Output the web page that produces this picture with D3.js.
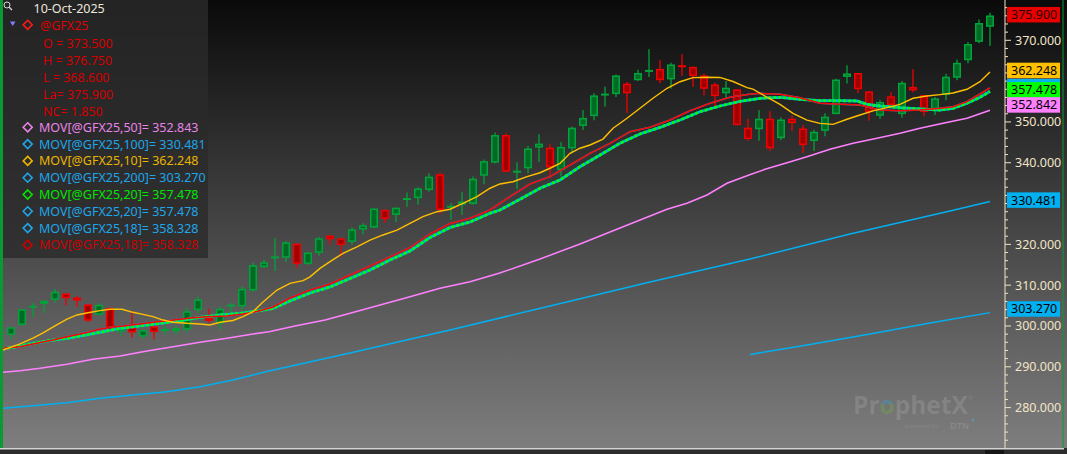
<!DOCTYPE html>
<html><head><meta charset="utf-8">
<script src="https://cdn.jsdelivr.net/npm/d3@7"></script>
<style>html,body{margin:0;padding:0;background:#2b2b2b;overflow:hidden}svg{display:block}</style>
</head><body>
<svg id="c" width="1067" height="454"></svg>
<script>
// ---------- DATA ----------
const opens  = [298.0,300.4,304.7,305.6,306.6,307.8,306.8,305.1,302.9,304.2,298.8,299.5,297.6,299.7,299.0,298.9,299.3,304.1,301.8,300.8,305.0,305.0,308.9,314.6,316.8,316.9,320.0,315.4,318.1,322.0,321.3,320.8,323.8,324.3,328.3,327.4,331.1,331.5,333.5,337.0,329.2,329.9,330.1,337.0,340.2,346.6,337.8,338.8,343.9,343.5,338.4,343.7,349.2,351.6,356.7,357.0,359.2,360.4,362.5,362.8,360.6,363.8,363.3,361.2,359.0,357.2,357.8,348.4,348.4,350.6,346.2,350.6,348.2,345.5,348.0,352.1,361.2,361.8,357.3,351.7,356.1,352.1,358.4,356.4,353.3,356.8,361.0,365.3,369.8,373.5];
const highs  = [299.6,304.1,305.6,306.1,309.1,308.0,307.3,305.3,305.6,304.5,300.1,303.2,299.1,300.5,299.9,300.2,304.4,307.2,304.2,304.8,305.6,309.7,315.5,316.2,321.5,320.8,320.2,318.2,321.8,322.2,321.5,324.1,325.2,328.8,328.4,329.0,332.7,334.0,337.4,337.6,330.1,332.9,336.6,340.8,347.4,347.2,340.1,344.1,347.0,344.5,345.1,348.9,352.9,357.0,358.6,361.6,359.8,362.8,367.8,365.1,364.5,366.6,363.6,361.8,359.6,360.0,358.0,350.8,352.9,352.6,351.1,351.6,349.2,348.1,352.1,360.6,363.9,361.9,357.6,355.3,357.3,360.0,362.9,356.5,356.1,361.8,365.3,369.6,375.1,376.75];
const lows   = [296.6,300.2,302.2,303.2,305.7,305.1,304.7,300.9,302.7,299.3,297.6,297.1,296.9,296.7,297.9,297.9,298.4,303.2,300.8,299.0,303.2,304.0,308.4,314.2,313.5,315.7,314.2,315.0,317.2,319.9,317.0,319.9,322.5,324.0,325.3,325.5,329.2,329.7,332.9,327.4,326.0,327.2,329.7,334.7,339.8,337.8,333.5,337.4,340.2,336.2,336.6,342.3,348.0,350.4,353.7,356.1,352.2,360.0,361.0,359.5,358.2,361.3,358.6,356.5,353.9,355.7,349.2,345.4,345.4,342.9,345.5,347.8,342.4,342.9,346.5,351.9,359.4,357.1,350.3,350.8,353.7,351.0,357.3,351.4,351.7,355.3,360.2,364.4,369.3,368.6];
const closes = [299.5,303.9,304.7,306.0,308.2,307.0,306.4,301.5,305.0,299.5,299.3,298.6,298.8,298.7,299.0,299.3,303.4,306.3,301.4,304.0,305.0,308.9,314.7,315.4,316.8,320.3,315.4,317.8,321.3,321.4,320.0,323.5,324.5,328.6,326.4,328.8,331.1,333.5,336.4,328.6,329.2,330.3,335.9,340.2,346.6,338.0,337.8,343.3,344.5,339.0,343.7,348.4,350.8,356.3,356.7,361.2,357.2,361.8,362.5,360.4,363.9,363.5,361.4,358.3,356.5,358.2,349.4,346.0,350.6,343.7,350.4,349.9,344.5,347.4,351.1,360.2,361.7,358.2,352.6,354.7,354.3,359.4,357.9,352.6,355.6,360.9,364.3,368.9,374.05,375.9];

// moving averages: [bar position, value]
const ma10 = [[0.27,294.1],[1.82,295.6],[3.0,297.05],[3.91,298.3],[5.0,300.0],[6.09,301.7],[7.0,302.7],[8.0,303.25],[9.09,303.75],[10.0,304.1],[11.09,304.1],[12.09,303.35],[13.0,302.85],[13.91,302.3],[14.82,301.45],[15.73,300.9],[17.0,300.65],[18.18,300.5],[19.09,300.25],[20.0,300.9],[21.18,301.35],[22.09,302.3],[23.0,303.5],[23.91,305.9],[25.18,308.8],[26.36,310.45],[27.55,311.1],[28.18,312.05],[29.09,314.1],[30.0,315.75],[31.18,317.8],[32.45,319.4],[33.64,321.05],[34.82,322.3],[36.09,323.5],[37.27,325.15],[38.45,326.8],[39.73,328.0],[40.91,328.6],[42.09,330.05],[43.36,331.7],[44.55,333.75],[45.45,334.8],[46.64,335.35],[47.91,336.6],[49.09,337.55],[50.0,338.65],[50.91,339.85],[51.82,342.3],[52.73,343.55],[53.64,344.35],[54.82,345.8],[55.73,348.45],[57.0,350.9],[58.18,353.35],[59.36,355.8],[60.64,358.25],[61.82,359.85],[63.0,360.85],[64.27,360.95],[65.45,360.9],[66.64,359.9],[67.91,358.4],[68.45,358.05],[69.73,356.05],[70.91,354.3],[72.09,352.1],[73.36,350.45],[74.55,349.65],[75.73,349.4],[77.0,350.65],[78.18,351.7],[79.36,352.7],[80.64,353.5],[81.82,354.3],[83.0,355.8],[84.27,356.35],[85.45,356.7],[86.64,357.1],[87.91,358.0],[89.09,359.85],[90.0,362.248]];
const ma18 = [[0.27,294.53],[1.82,294.92],[3.0,295.58],[4.82,296.56],[6.09,297.37],[7.27,298.03],[8.18,298.6],[9.09,299.26],[10.0,299.67],[11.18,300.0],[12.73,300.48],[13.91,300.9],[15.18,301.29],[16.36,301.63],[17.55,302.03],[18.82,302.27],[20.64,302.44],[22.09,302.93],[23.36,303.54],[24.82,304.65],[26.36,306.86],[28.18,308.82],[30.0,310.28],[31.82,312.49],[33.64,314.69],[35.45,316.9],[37.27,319.23],[39.09,322.54],[40.91,325.11],[42.73,326.38],[44.55,328.42],[46.36,331.68],[48.18,334.79],[50.0,336.58],[51.82,339.44],[53.64,342.31],[55.45,344.76],[57.27,347.6],[59.09,348.68],[60.91,350.47],[62.73,352.75],[64.55,354.56],[66.36,356.03],[68.09,356.77],[69.09,357.01],[70.91,356.77],[72.73,355.93],[74.55,354.56],[76.36,354.32],[78.18,354.15],[80.0,352.92],[81.82,352.75],[83.64,352.92],[85.45,353.34],[86.64,353.73],[87.91,354.96],[89.09,356.84],[90.0,358.328]];
const ma20 = [[0.27,294.36],[1.82,295.09],[3.0,295.75],[4.82,296.56],[6.09,296.98],[7.27,297.54],[9.09,298.45],[10.91,299.43],[12.73,300.0],[14.55,300.65],[16.36,301.29],[18.18,302.12],[20.0,302.69],[21.82,303.1],[23.64,303.74],[24.82,304.28],[26.36,306.12],[28.18,308.08],[30.0,309.55],[31.82,311.63],[33.64,313.71],[35.45,316.16],[37.27,318.37],[39.09,321.68],[40.91,324.13],[42.73,325.48],[44.55,327.61],[45.45,328.42],[47.27,331.04],[49.09,333.74],[50.91,335.77],[52.73,339.03],[54.55,341.9],[56.36,344.76],[58.18,347.04],[60.0,348.68],[61.82,350.47],[63.64,352.5],[65.45,353.9],[67.27,355.05],[69.09,355.79],[70.91,356.03],[72.73,355.54],[74.55,355.2],[76.36,355.2],[77.91,355.13],[78.82,354.32],[80.0,353.9],[81.82,353.49],[83.64,353.17],[85.45,352.92],[86.64,353.34],[87.91,354.56],[89.09,356.03],[90.0,357.478]];
const ma50 = [[0.27,288.65],[1.82,289.04],[3.64,289.62],[6.09,290.6],[8.45,291.83],[10.91,292.64],[13.36,293.87],[15.73,294.92],[18.18,296.0],[20.64,296.98],[23.0,298.03],[24.45,298.6],[26.82,300.0],[29.55,301.46],[31.82,303.1],[34.55,305.14],[37.27,307.17],[40.0,309.23],[42.73,310.85],[45.36,312.9],[49.09,316.41],[52.73,320.09],[56.36,324.0],[60.64,328.59],[62.45,330.06],[64.27,332.09],[66.09,334.96],[68.09,337.0],[69.55,338.39],[71.55,340.01],[73.36,341.48],[75.45,343.29],[77.55,344.76],[79.73,345.99],[81.82,347.21],[83.64,348.44],[85.73,349.66],[87.91,350.89],[90.0,352.843]];
const ma100 = [[0.27,279.83],[3.0,280.46],[6.09,281.2],[9.09,282.28],[12.09,283.08],[15.18,283.89],[18.18,285.12],[21.18,286.76],[24.45,288.96],[31.82,293.37],[40.91,299.01],[50.0,304.89],[59.09,310.77],[68.18,316.41],[77.27,322.54],[86.36,328.17],[90.0,330.481]];
const ma200 = [[68.18,293.0],[73.64,295.46],[79.09,298.03],[84.55,300.72],[90.0,303.27]];

const yTickValues = [270,280,290,300,310,320,330,340,350,360,370,380];
const lastDate = "10-Oct-2025";
const symbol = "@GFX25";
const ohlcLabels = ["O = 373.500","H = 376.750","L = 368.600","La= 375.900","NC= 1.850"];
const legendNames  = ["MOV[@GFX25,50]","MOV[@GFX25,100]","MOV[@GFX25,10]","MOV[@GFX25,200]","MOV[@GFX25,20]","MOV[@GFX25,20]","MOV[@GFX25,18]","MOV[@GFX25,18]"];
const legendValues = ["352.843","330.481","362.248","303.270","357.478","357.478","358.328","358.328"];
// right-axis tags (value, text)
const tagValues = [352.842,330.481,362.248,303.270,357.478,357.478,358.328,358.328];
const tagTexts  = ["352.842","330.481","362.248","303.270","357.478","357.478","358.328","358.328"];
const lastPrice = 375.9, lastPriceText = "375.900";

// ---------- STYLE ----------
const legendText = ["#e884e8","#1ea6ea","#eab400","#1ea6ea","#00e600","#1ea6ea","#1ea6ea","#cc0000"];
const tagFill    = ["#ff80ff","#00b0f0","#ffc000","#00b0f0","#00ff00","#00b0f0","#00b0f0","#ff0000"];

const W = 1067, H = 454, plotR = 1004, plotB = 448;
const svg = d3.select("#c");
const defs = svg.append("defs");
const bg = defs.append("linearGradient").attr("id","bg").attr("x1",0).attr("y1",0).attr("x2",0).attr("y2",1);
bg.append("stop").attr("offset","0%").attr("stop-color","#0a0a0a");
bg.append("stop").attr("offset","100%").attr("stop-color","#7e7e7e");
const og = defs.append("linearGradient").attr("id","og").attr("x1",0).attr("y1",0).attr("x2",0).attr("y2",1);
og.append("stop").attr("offset","50%").attr("stop-color","#2f9fd8");
og.append("stop").attr("offset","50%").attr("stop-color","#6cb043");
defs.append("clipPath").attr("id","plot").append("rect").attr("x",3).attr("y",0).attr("width",plotR-3).attr("height",plotB);

svg.append("rect").attr("width",W).attr("height",plotB).attr("fill","url(#bg)");

const x = d3.scaleLinear().domain([0,91]).range([0,1001]);
const y = d3.scaleLinear().domain([270.1,379.875]).range([plotB,0]);

// watermark
const wm = svg.append("g").attr("font-family","'Open Sans',sans-serif").attr("font-weight","bold");
const wt = wm.append("text").attr("x",853).attr("y",414).attr("font-size",24.5).attr("fill","#ffffff").attr("fill-opacity",0.13);
wt.append("tspan").text("Pr");
wt.append("tspan").attr("fill","url(#og)").attr("fill-opacity",0.35).text("o");
wt.append("tspan").text("phetX");
wm.append("text").attr("x",968).attr("y",400).attr("font-size",6).attr("fill","#fff").attr("fill-opacity",0.13).text("®");
wm.append("text").attr("x",905).attr("y",428).attr("font-size",6).attr("font-weight","normal").attr("fill","#fff").attr("fill-opacity",0.12).text("powered by");
wm.append("text").attr("x",950).attr("y",429).attr("font-size",9).attr("fill","#fff").attr("fill-opacity",0.13).text("DTN");
wm.append("circle").attr("cx",973).attr("cy",420).attr("r",1.5).attr("fill","#4fb0c0").attr("fill-opacity",0.5);

const plot = svg.append("g").attr("clip-path","url(#plot)");

// candles
const bars = d3.range(opens.length).map(i => ({i:i+1,o:opens[i],h:highs[i],l:lows[i],c:closes[i]}));
const cg = plot.append("g");
bars.forEach(d => {
  const up = d.c >= d.o;
  const line = up ? "#00a43a" : "#f00000";
  const fill = up ? "#006b24" : "#a00000";
  const cx = x(d.i);
  cg.append("line").attr("x1",cx).attr("x2",cx).attr("y1",y(d.h)).attr("y2",y(d.l))
    .attr("stroke",line).attr("stroke-width",1.3);
  const top = y(Math.max(d.o,d.c)), bot = y(Math.min(d.o,d.c));
  if (bot - top < 1.5) {
    cg.append("line").attr("x1",cx-4).attr("x2",cx+4).attr("y1",(top+bot)/2).attr("y2",(top+bot)/2)
      .attr("stroke",line).attr("stroke-width",2);
  } else {
    cg.append("rect").attr("x",cx-3.25).attr("width",6.5).attr("y",top).attr("height",bot-top)
      .attr("fill",fill).attr("stroke",line).attr("stroke-width",1.5);
  }
});

// moving averages
const ln = d3.line().x(d => x(d[0])).y(d => y(d[1]));
const addLine = (data,color,w,dash) => {
  const p = plot.append("path").attr("d",ln(data)).attr("fill","none").attr("stroke",color).attr("stroke-width",w);
  if (dash) p.attr("stroke-dasharray",dash);
};
addLine(ma100,"#00b0f0",1.5);
addLine(ma200,"#00b0f0",1.5);
addLine(ma50,"#ff80ff",1.5);
addLine(ma18,"#00b0f0",1.5);
addLine(ma20,"#00b0f0",2.8);
addLine(ma20,"#00ff00",2.8,"3,2");
addLine(ma18,"#ff0000",1.5);
addLine(ma10,"#ffc000",1.4);

// right axis
const ax = svg.append("g");
ax.append("line").attr("x1",1005).attr("x2",1005).attr("y1",0).attr("y2",plotB).attr("stroke","#f2e2c4").attr("stroke-width",1);
d3.range(272,380,2).forEach(v => {
  const major = v % 10 === 0;
  ax.append("line").attr("x1",1005).attr("x2",major?1011:1008).attr("y1",y(v)).attr("y2",y(v))
    .attr("stroke","#f2e2c4").attr("stroke-width",1);
});
const tagCenters = tagValues.map(v => y(v) - 1.5);
const priceCenter = y(lastPrice) - 1.5;
const allCenters = tagCenters.concat([priceCenter]);
const visibleTicks = yTickValues.filter(v => {
  const yy = y(v);
  if (yy < 8 || yy > plotB - 8) return false;
  return !allCenters.some(c => Math.abs(c - yy) < 10);
});
visibleTicks.forEach(v => {
  ax.append("text").attr("x",1015).attr("y",y(v)+4.5).attr("font-family","'Noto Sans',sans-serif")
    .attr("font-size",12.5).attr("fill","#f2e4c8").text(d3.format(".3f")(v));
});
// tags sitting just above a visible tick label are lifted clear of it
const placed = tagCenters.map(c => {
  let cc = c;
  visibleTicks.forEach(v => { const yy = y(v); if (yy > cc && yy - cc < 17) cc = yy - 17; });
  return cc;
});
// tags drawn in reverse legend order; a tag's text is written only when no later tag covers it
const tagOrder = d3.range(tagValues.length).reverse();
tagOrder.forEach(k => {
  ax.append("rect").attr("x",1007).attr("y",placed[k]-7.75).attr("width",53).attr("height",15.5).attr("fill",tagFill[k]);
});
tagOrder.forEach((k, pos) => {
  const c = placed[k];
  const covered = tagOrder.slice(pos+1).some(j => Math.abs(placed[j] - c) < 6);
  if (covered) return;
  ax.append("text").attr("x",1011).attr("y",c+4.5).attr("font-family","'Noto Sans',sans-serif")
    .attr("font-size",12.5).attr("fill","#000").text(tagTexts[k]);
});
ax.append("rect").attr("x",1007).attr("y",priceCenter-7.75).attr("width",53).attr("height",15.5).attr("fill","#e80000");
ax.append("text").attr("x",1011).attr("y",priceCenter+4.5).attr("font-family","'Noto Sans',sans-serif")
  .attr("font-size",12.5).attr("fill","#2a0000").text(lastPriceText);

// borders
svg.append("rect").attr("x",0).attr("y",0).attr("width",3).attr("height",plotB).attr("fill","#0a9a32");
svg.append("rect").attr("x",1062.5).attr("y",0).attr("width",1).attr("height",plotB).attr("fill","#0a9a32");
svg.append("rect").attr("x",0).attr("y",plotB).attr("width",W).attr("height",H-plotB).attr("fill","#2c2c2c");
svg.append("rect").attr("x",0).attr("y",plotB).attr("width",1064).attr("height",1.5).attr("fill","#d4d4d4");
svg.append("rect").attr("x",985).attr("y",plotB+2).attr("width",19).attr("height",4).attr("fill","#151515");

// legend
const lg = svg.append("g").attr("font-family","'Noto Sans',sans-serif").attr("font-size",12.5);
lg.append("rect").attr("x",3).attr("y",0).attr("width",205).attr("height",258).attr("fill","#2a2a2a").attr("fill-opacity",0.8);
lg.append("circle").attr("cx",7).attr("cy",5).attr("r",3).attr("fill","none").attr("stroke","#d8d8d8").attr("stroke-width",1);
lg.append("line").attr("x1",9.2).attr("y1",7.2).attr("x2",12).attr("y2",10).attr("stroke","#d8d8d8").attr("stroke-width",1.3);
lg.append("text").attr("x",33.5).attr("y",13.3).attr("fill","#ece6dc").text(lastDate);
lg.append("path").attr("d","M10,21.5 L15.5,21.5 L12.75,26 Z").attr("fill","#8080ff");
const diamond = (cx,cy,color) => lg.append("path")
  .attr("d",`M${cx},${cy-4.5} L${cx+4.5},${cy} L${cx},${cy+4.5} L${cx-4.5},${cy} Z`)
  .attr("fill","none").attr("stroke",color).attr("stroke-width",1.6);
diamond(27.7,24.8,"#ff1a1a");
lg.append("text").attr("x",40).attr("y",29.5).attr("fill","#dd0000").text(symbol);
ohlcLabels.forEach((t,k) => lg.append("text").attr("x",43).attr("y",47.8 + k*16.95).attr("fill","#d40000").text(t));
legendNames.forEach((nm,k) => {
  const base = 131.8 + k*16.8;
  diamond(27.7, base-4.5, legendText[k]);
  lg.append("text").attr("x",39).attr("y",base).attr("fill",legendText[k]).text(nm + "= " + legendValues[k]);
});
</script>
</body></html>
